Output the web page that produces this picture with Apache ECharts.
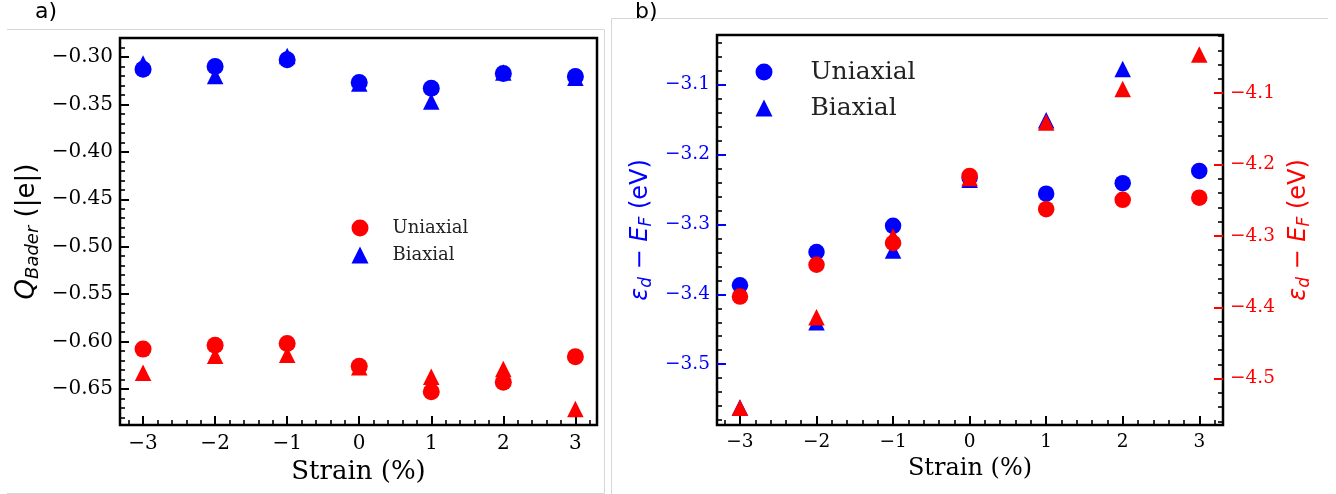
<!DOCTYPE html>
<html><head><meta charset="utf-8">
<script src="https://cdn.jsdelivr.net/npm/echarts@6/dist/echarts.min.js"></script>
<style>html,body{margin:0;padding:0;background:#fff}#c{width:1336px;height:494px}</style>
</head><body><div id="c"></div>
<script>
// ---------- data ----------
const strain = [-3, -2, -1, 0, 1, 2, 3];
const xTicks = [-3, -2, -1, 0, 1, 2, 3];

// panel a: Bader charge (|e|)
const qBlueBiaxial  = [-0.307, -0.320, -0.299, -0.328, -0.347, -0.3165, -0.322];
const qBlueUniaxial = [-0.313, -0.310, -0.303, -0.327, -0.333, -0.3175, -0.3205];
const qRedBiaxial   = [-0.633, -0.615, -0.614, -0.627, -0.637, -0.629, -0.671];
const qRedUniaxial  = [-0.608, -0.604, -0.602, -0.626, -0.653, -0.643, -0.616];
const qTicks = [-0.65, -0.60, -0.55, -0.50, -0.45, -0.40, -0.35, -0.30];

// panel b: d-band centre (eV); blue -> left axis, red -> right axis
const edBlueBiaxial  = [-3.562, -3.440, -3.3375, -3.236, -3.151, -3.0775, -3.005];
const edBlueUniaxial = [-3.387, -3.3395, -3.302, -3.233, -3.256, -3.241, -3.2235];
const edRedBiaxial   = [-4.541, -4.414, -4.301, -4.219, -4.141, -4.094, -4.046];
const edRedUniaxial  = [-4.385, -4.3405, -4.310, -4.216, -4.2625, -4.2495, -4.2465];
const edLeftTicks  = [-3.5, -3.4, -3.3, -3.2, -3.1];
const edRightTicks = [-4.5, -4.4, -4.3, -4.2, -4.1];

// ---------- helpers ----------
const pts = arr => strain.map((s, i) => [s, arr[i]]);
const minus = s => s.replace('-', '\u2212');
function minors(k0, k1, step, every) {
  const out = [];
  for (let k = k0; k <= k1; k++) if (k % every !== 0) out.push(+(k * step).toFixed(4));
  return out;
}
const xMinor = minors(-16, 16, 0.2, 5);
const qMinor = minors(-68, -29, 0.01, 5);
const lMinor = minors(-179, -152, 0.02, 5);
const rMinor = minors(-228, -201, 0.02, 5);

const SERIF = 'DejaVu Serif', SANS = 'DejaVu Sans';
const BLUE = '#0000ff', RED = '#ff0000';

function majorAxis(o) {
  return Object.assign({
    type: 'value', splitLine: { show: false }, axisLine: { show: false, onZero: false },
    axisTick: { show: true, inside: true, length: 9, customValues: o.ticks, lineStyle: { color: o.tickColor || '#000', width: 2 } },
    axisLabel: { customValues: o.ticks, formatter: v => minus(v.toFixed(o.dec)), fontFamily: SERIF, fontSize: o.fs, color: o.color || '#000', margin: o.margin }
  }, o.extra);
}
function minorAxis(o) {
  return Object.assign({
    type: 'value', splitLine: { show: false }, axisLine: { show: false, onZero: false }, axisLabel: { show: false },
    axisTick: { show: true, inside: true, length: 5, customValues: o.ticks, lineStyle: { color: '#000', width: 1.6 } }
  }, o.extra);
}
function richName(fs, color) {
  return {
    color: color, fontFamily: SANS, fontSize: fs,
    rich: {
      i: { fontFamily: SANS, fontStyle: 'italic', fontSize: fs, color: color, lineHeight: fs + 4 },
      s: { fontFamily: SANS, fontStyle: 'italic', fontSize: Math.round(fs * 0.7), color: color, lineHeight: Math.round(fs * 0.55), verticalAlign: 'bottom' },
      n: { fontFamily: SANS, fontSize: fs, color: color, lineHeight: fs + 4 }
    }
  };
}

const chart = echarts.init(document.getElementById('c'), null, { renderer: 'canvas' });
chart.setOption({
  animation: false,
  backgroundColor: '#fff',
  grid: [
    { left: 120, top: 38, width: 477, height: 387, show: true, borderColor: '#000', borderWidth: 2.5, backgroundColor: 'transparent', outerBoundsMode: 'none' },
    { left: 717, top: 35, width: 506, height: 390, show: true, borderColor: '#000', borderWidth: 2.5, backgroundColor: 'transparent', outerBoundsMode: 'none' }
  ],
  xAxis: [
    majorAxis({ ticks: xTicks, dec: 0, fs: 20, margin: 9, extra: { gridIndex: 0, min: -3.32, max: 3.3, position: 'bottom',
      name: 'Strain (%)', nameLocation: 'middle', nameGap: 34, nameTextStyle: { fontFamily: SERIF, fontSize: 26, color: '#000' } } }),
    minorAxis({ ticks: xMinor, extra: { gridIndex: 0, min: -3.32, max: 3.3, position: 'bottom' } }),
    majorAxis({ ticks: xTicks, dec: 0, fs: 18.5, margin: 8, extra: { gridIndex: 1, min: -3.3, max: 3.31, position: 'bottom',
      name: 'Strain (%)', nameLocation: 'middle', nameGap: 31, nameTextStyle: { fontFamily: SERIF, fontSize: 24, color: '#000' } } }),
    minorAxis({ ticks: xMinor, extra: { gridIndex: 1, min: -3.3, max: 3.31, position: 'bottom' } })
  ],
  yAxis: [
    majorAxis({ ticks: qTicks, dec: 2, fs: 20, margin: 7, extra: { gridIndex: 0, min: -0.688, max: -0.28, position: 'left',
      name: '{i|Q}{s|Bader}{n| (|e|)}', nameLocation: 'middle', nameRotate: 90, nameGap: 78, nameTextStyle: richName(26, '#000') } }),
    minorAxis({ ticks: qMinor, extra: { gridIndex: 0, min: -0.688, max: -0.28, position: 'left' } }),
    majorAxis({ ticks: edLeftTicks, dec: 1, fs: 18.5, margin: 7, color: BLUE, tickColor: BLUE, extra: { gridIndex: 1, min: -3.587, max: -3.029, position: 'left',
      name: '{i|\u03b5}{s|d}{n| \u2212 }{i|E}{s|F}{n| (eV)}', nameLocation: 'middle', nameRotate: 90, nameGap: 62, nameTextStyle: richName(24, BLUE) } }),
    minorAxis({ ticks: lMinor, extra: { gridIndex: 1, min: -3.587, max: -3.029, position: 'left' } }),
    majorAxis({ ticks: edRightTicks, dec: 1, fs: 18.5, margin: 7, color: RED, tickColor: RED, extra: { gridIndex: 1, min: -4.565, max: -4.0185, position: 'right',
      name: '{i|\u03b5}{s|d}{n| \u2212 }{i|E}{s|F}{n| (eV)}', nameLocation: 'middle', nameRotate: 90, nameGap: 62, nameTextStyle: richName(24, RED) } }),
    minorAxis({ ticks: rMinor, extra: { gridIndex: 1, min: -4.565, max: -4.0185, position: 'right' } })
  ],
  legend: [
    { orient: 'vertical', left: 351.5, top: 218, itemWidth: 17, itemHeight: 17, itemGap: 7, padding: 0, selectedMode: false,
      textStyle: { fontFamily: SERIF, fontSize: 18, color: '#222', lineHeight: 20, padding: [0, 0, 0, 19] },
      data: [{ name: 'Uniaxial', icon: 'circle', itemStyle: { color: RED } }, { name: 'Biaxial', icon: 'triangle', itemStyle: { color: BLUE } }] },
    { orient: 'vertical', left: 755.5, top: 58, itemWidth: 17, itemHeight: 17, itemGap: 8, padding: 0, selectedMode: false,
      textStyle: { fontFamily: SERIF, fontSize: 25, color: '#222', lineHeight: 28, padding: [0, 0, 0, 33] },
      data: [{ name: 'Uniaxial', icon: 'circle', itemStyle: { color: BLUE } }, { name: 'Biaxial', icon: 'triangle', itemStyle: { color: BLUE } }] }
  ],
  series: [
    { name: 'Biaxial', type: 'scatter', xAxisIndex: 0, yAxisIndex: 0, symbol: 'triangle', symbolSize: 16.5, itemStyle: { color: BLUE, opacity: 1 }, data: pts(qBlueBiaxial) },
    { name: 'Uniaxial', type: 'scatter', xAxisIndex: 0, yAxisIndex: 0, symbol: 'circle', symbolSize: 17, itemStyle: { color: BLUE, opacity: 1 }, data: pts(qBlueUniaxial) },
    { name: 'Biaxial', type: 'scatter', xAxisIndex: 0, yAxisIndex: 0, symbol: 'triangle', symbolSize: 16.5, itemStyle: { color: RED, opacity: 1 }, data: pts(qRedBiaxial) },
    { name: 'Uniaxial', type: 'scatter', xAxisIndex: 0, yAxisIndex: 0, symbol: 'circle', symbolSize: 17, itemStyle: { color: RED, opacity: 1 }, data: pts(qRedUniaxial) },
    { name: 'Biaxial', type: 'scatter', xAxisIndex: 2, yAxisIndex: 2, symbol: 'triangle', symbolSize: 16.5, clip: true, itemStyle: { color: BLUE, opacity: 1 }, data: pts(edBlueBiaxial) },
    { name: 'Uniaxial', type: 'scatter', xAxisIndex: 2, yAxisIndex: 2, symbol: 'circle', symbolSize: 16.5, itemStyle: { color: BLUE, opacity: 1 }, data: pts(edBlueUniaxial) },
    { name: 'Biaxial', type: 'scatter', xAxisIndex: 2, yAxisIndex: 4, symbol: 'triangle', symbolSize: 16.5, itemStyle: { color: RED, opacity: 1 }, data: pts(edRedBiaxial) },
    { name: 'Uniaxial', type: 'scatter', xAxisIndex: 2, yAxisIndex: 4, symbol: 'circle', symbolSize: 16.5, itemStyle: { color: RED, opacity: 1 }, data: pts(edRedUniaxial) }
  ],
  graphic: [
    { type: 'line', silent: true, shape: { x1: 7, y1: 29.5, x2: 604.5, y2: 29.5 }, style: { stroke: '#d6d6d6', lineWidth: 1 } },
    { type: 'line', silent: true, shape: { x1: 604.5, y1: 29.5, x2: 604.5, y2: 493.5 }, style: { stroke: '#d6d6d6', lineWidth: 1 } },
    { type: 'line', silent: true, shape: { x1: 7, y1: 493.5, x2: 604.5, y2: 493.5 }, style: { stroke: '#d6d6d6', lineWidth: 1 } },
    { type: 'line', silent: true, shape: { x1: 611.5, y1: 18.5, x2: 611.5, y2: 494 }, style: { stroke: '#d6d6d6', lineWidth: 1 } },
    { type: 'line', silent: true, shape: { x1: 611.5, y1: 18.5, x2: 1328, y2: 18.5 }, style: { stroke: '#d6d6d6', lineWidth: 1 } },
    { type: 'text', left: 35, top: 1, z: 10, style: { text: 'a)', fontFamily: SANS, fontSize: 22, fill: '#000' } },
    { type: 'text', left: 635, top: 1, z: 10, style: { text: 'b)', fontFamily: SANS, fontSize: 22, fill: '#000' } }
  ]
});
</script></body></html>
